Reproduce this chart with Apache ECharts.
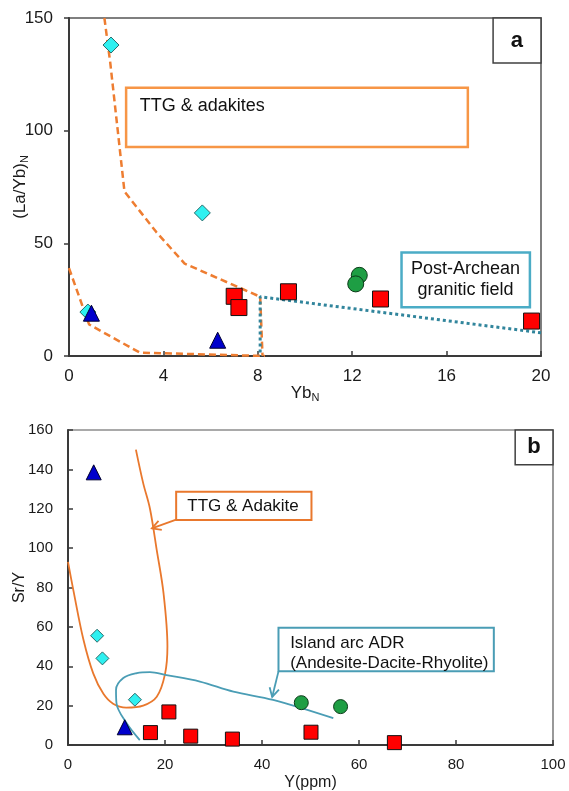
<!DOCTYPE html>
<html><head><meta charset="utf-8">
<script src="https://cdn.jsdelivr.net/npm/echarts@6/dist/echarts.min.js"></script>
<style>html,body{margin:0;padding:0;background:#fff}#c{width:569px;height:791px}</style>
</head><body><div id="c"></div>
<script>
// ================= Panel a : (La/Yb)N vs YbN =================
const aXTicks = [0, 4, 8, 12, 16, 20];
const aYTicks = [0, 50, 100, 150];
const aDiamond = [[0.8, 19.5], [5.65, 63.5], [1.78, 138]];
const aTriangle = [[0.95, 19], [6.3, 7]];
const aSquare = [[7.0, 26.5], [7.2, 21.5], [9.3, 28.5], [13.2, 25.3], [19.6, 15.5]];
const aCircle = [[12.3, 35.8], [12.15, 32]];
const aTTGUpper = [[1.5, 150], [1.75, 130], [2.35, 73], [3.7, 55], [4.9, 41], [8.1, 26.3], [8.2, 0]];
const aTTGLower = [[0, 39], [0.85, 14], [3.0, 1.5], [8.3, 0]];
const aPostArchean = [[20, 10.3], [8.1, 26.3], [8.1, 0]];

// ================= Panel b : Sr/Y vs Y =================
const bXTicks = [0, 20, 40, 60, 80, 100];
const bYTicks = [0, 20, 40, 60, 80, 100, 120, 140, 160];
const bDiamond = [[6.0, 55.5], [7.1, 44], [13.8, 23]];
const bTriangle = [[5.3, 138.5], [11.7, 9]];
const bSquare = [[17, 6.3], [20.8, 16.8], [25.3, 4.5], [33.9, 3], [50.1, 6.5], [67.3, 1.2]];
const bCircle = [[48.1, 21.5], [56.2, 19.5]];
const bTTGCurve = [[14.0, 150], [15.5, 133], [16.9, 120], [18.3, 99], [19.7, 77], [20.5, 50], [20.0, 36],
  [18.3, 24.5], [15.5, 20], [12, 19], [9.3, 21], [7.3, 26], [5.2, 36.4], [3.2, 53.3], [1.1, 78.7], [0, 93]];
const bADRCurve = [[14.8, 2.5], [12.1, 11], [10.0, 21.2], [9.9, 28], [11.4, 34], [14.2, 36.5], [16.9, 37],
  [20.3, 35.5], [27.2, 32.2], [34.1, 27.1], [42.3, 22.9], [54.7, 13.6]];

// ================= Annotations (data units) =================
const aBoxes = [
  { rect: [2.42, 119, 16.9, 92.8], stroke: '#F79646', lw: 2.5, texts: [{ s: 'TTG & adakites', at: [3.0, 110.8] }] },
  { rect: [14.09, 45.9, 19.53, 21.6], stroke: '#4BACC6', lw: 2.5,
    texts: [{ s: 'Post-Archean', at: [16.8, 38.4], align: 'center' }, { s: 'granitic field', at: [16.8, 29.2], align: 'center' }] },
  { rect: [17.97, 150, 20, 130], stroke: '#404040', lw: 1.5, texts: [{ s: 'a', at: [18.98, 140], align: 'center', font: 'bold 22px "Liberation Sans"' }] }
];
const bBoxes = [
  { rect: [22.3, 128.6, 50.2, 114.3], stroke: '#E9782D', lw: 2, texts: [{ s: 'TTG & Adakite', at: [24.6, 121] }] },
  { rect: [43.4, 59.6, 87.8, 37.4], stroke: '#4A9DB5', lw: 2,
    texts: [{ s: 'Island arc ADR', at: [45.8, 51.7] }, { s: '(Andesite-Dacite-Rhyolite)', at: [45.8, 41.6] }] },
  { rect: [92.2, 160, 100, 142.3], stroke: '#404040', lw: 1.5, texts: [{ s: 'b', at: [96.1, 151.2], align: 'center', font: 'bold 22px "Liberation Sans"' }] }
];
const bArrows = [
  { seg: [22.3, 114.5, 17.3, 110], color: '#E9782D' },
  { seg: [43.4, 37.4, 42.1, 24.4], color: '#4A9DB5' }
];

const FONT = '"Liberation Sans", Arial, sans-serif';

function boxSeries(xi, boxes, font) {
  return {
    type: 'custom', xAxisIndex: xi, yAxisIndex: xi, silent: true, z: 3, clip: false,
    data: boxes.map(b => b.rect), encode: { x: [0, 2], y: [1, 3] },
    renderItem(params, api) {
      const b = boxes[params.dataIndex];
      const p0 = api.coord([b.rect[0], b.rect[1]]);
      const p1 = api.coord([b.rect[2], b.rect[3]]);
      const ch = [{
        type: 'rect',
        shape: { x: Math.min(p0[0], p1[0]), y: Math.min(p0[1], p1[1]), width: Math.abs(p1[0] - p0[0]), height: Math.abs(p1[1] - p0[1]) },
        style: { fill: '#fff', stroke: b.stroke, lineWidth: b.lw }
      }];
      b.texts.forEach(t => {
        const p = api.coord(t.at);
        ch.push({ type: 'text', style: { text: t.s, x: p[0], y: p[1], fill: '#111', font: t.font || font, align: t.align || 'left', verticalAlign: 'middle' } });
      });
      return { type: 'group', children: ch };
    }
  };
}
function arrowSeries(xi, arrows) {
  return {
    type: 'custom', xAxisIndex: xi, yAxisIndex: xi, silent: true, z: 3, clip: false,
    data: arrows.map(a => a.seg), encode: { x: [0, 2], y: [1, 3] },
    renderItem(params, api) {
      const a = arrows[params.dataIndex];
      const p0 = api.coord([a.seg[0], a.seg[1]]), p1 = api.coord([a.seg[2], a.seg[3]]);
      const ang = Math.atan2(p1[1] - p0[1], p1[0] - p0[0]);
      const L = 10, W = 0.5;
      const h1 = [p1[0] - L * Math.cos(ang - W), p1[1] - L * Math.sin(ang - W)];
      const h2 = [p1[0] - L * Math.cos(ang + W), p1[1] - L * Math.sin(ang + W)];
      return { type: 'group', children: [
        { type: 'line', shape: { x1: p0[0], y1: p0[1], x2: p1[0], y2: p1[1] }, style: { stroke: a.color, lineWidth: 1.8 } },
        { type: 'polyline', shape: { points: [h1, p1, h2] }, style: { stroke: a.color, lineWidth: 1.8, fill: null } }
      ] };
    }
  };
}
function scatter(xi, data, symbol, size, color, border) {
  return { type: 'scatter', xAxisIndex: xi, yAxisIndex: xi, data, symbol, symbolSize: size, z: 5,
    itemStyle: { color, borderColor: border, borderWidth: 1, opacity: 1 } };
}
function lineS(xi, data, color, width, type, smooth) {
  return { type: 'line', xAxisIndex: xi, yAxisIndex: xi, data, symbol: 'none', smooth: smooth || false, z: 2,
    lineStyle: { color, width, type } };
}
function axisCommon(fs, margin, inside) {
  return {
    nameMoveOverlap: false,
    axisLine: { show: true, lineStyle: { color: '#3a3a3a', width: 2 } },
    axisTick: { show: true, inside: inside, length: 5, lineStyle: { color: '#3a3a3a', width: 1.5 } },
    splitLine: { show: false },
    axisLabel: { color: '#1a1a1a', fontSize: fs, fontFamily: FONT, margin: margin },
    nameTextStyle: { color: '#1a1a1a', fontSize: fs, fontFamily: FONT }
  };
}
const subRich = (fs) => ({ m: { fontSize: fs, fontFamily: FONT, color: '#1a1a1a' },
  s: { fontSize: 11, fontFamily: FONT, color: '#1a1a1a', verticalAlign: 'bottom', padding: [8, 0, 0, 0] } });

const option = {
  backgroundColor: '#fff',
  animation: false,
  grid: [
    { left: 69, top: 18, width: 472, height: 338, show: true, borderColor: '#555', borderWidth: 1.5, containLabel: false, outerBoundsMode: 'none' },
    { left: 68, top: 430, width: 485, height: 315, show: true, borderColor: '#555', borderWidth: 1.2, containLabel: false, outerBoundsMode: 'none' }
  ],
  xAxis: [
    Object.assign(axisCommon(17, 12, true), { gridIndex: 0, type: 'value', min: aXTicks[0], max: aXTicks[aXTicks.length - 1], interval: aXTicks[1] - aXTicks[0],
      name: '{m|Yb}{s|N}', nameLocation: 'middle', nameGap: 28, nameTextStyle: { rich: subRich(17) } }),
    Object.assign(axisCommon(15, 12, true), { gridIndex: 1, type: 'value', min: bXTicks[0], max: bXTicks[bXTicks.length - 1], interval: bXTicks[1] - bXTicks[0],
      name: 'Y(ppm)', nameLocation: 'middle', nameGap: 30, nameTextStyle: { color: '#1a1a1a', fontSize: 16, fontFamily: FONT } })
  ],
  yAxis: [
    Object.assign(axisCommon(17, 16, false), { gridIndex: 0, type: 'value', min: aYTicks[0], max: aYTicks[aYTicks.length - 1], interval: aYTicks[1] - aYTicks[0],
      name: '{m|(La/Yb)}{s|N}', nameLocation: 'middle', nameGap: 39, nameTextStyle: { rich: subRich(17) } }),
    Object.assign(axisCommon(15, 15, true), { gridIndex: 1, type: 'value', min: bYTicks[0], max: bYTicks[bYTicks.length - 1], interval: bYTicks[1] - bYTicks[0],
      name: 'Sr/Y', nameLocation: 'middle', nameGap: 40, nameTextStyle: { color: '#1a1a1a', fontSize: 16, fontFamily: FONT } })
  ],
  series: [
    lineS(0, aTTGUpper, '#EE7D31', 2.5, [7, 4]),
    lineS(0, aTTGLower, '#EE7D31', 2.5, [7, 4]),
    lineS(0, aPostArchean, '#31859C', 3, [3, 3]),
    boxSeries(0, aBoxes, '18px ' + FONT),
    scatter(0, aDiamond, 'diamond', 16, '#2EF0F0', '#2a6a6a'),
    scatter(0, aTriangle, 'triangle', 16, '#0000CC', '#000030'),
    scatter(0, aSquare, 'rect', 16, '#FF0000', '#111'),
    scatter(0, aCircle, 'circle', 16, '#1E9E44', '#0b3b18'),

    lineS(1, bTTGCurve, '#E9782D', 1.8, 'solid', 0.35),
    lineS(1, bADRCurve, '#4A9DB5', 1.8, 'solid', 0.35),
    boxSeries(1, bBoxes, '17px ' + FONT),
    arrowSeries(1, bArrows),
    scatter(1, bDiamond, 'diamond', 13, '#2EF0F0', '#2a6a6a'),
    scatter(1, bTriangle, 'triangle', 15, '#0000CC', '#000030'),
    scatter(1, bSquare, 'rect', 14, '#FF0000', '#111'),
    scatter(1, bCircle, 'circle', 14, '#1E9E44', '#0b3b18')
  ]
};
const chart = echarts.init(document.getElementById('c'));
chart.setOption(option);
</script>
</body></html>
